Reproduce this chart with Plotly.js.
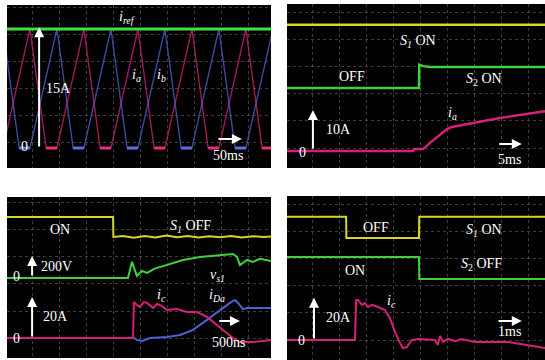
<!DOCTYPE html>
<html><head><meta charset="utf-8">
<script src="https://cdn.plot.ly/plotly-3.0.1.min.js"></script>
<style>html,body{margin:0;padding:0;background:#fff}#c{width:545px;height:360px}</style>
</head><body><div id="c"></div>
<script>
// All values in oscilloscope divisions (x: from panel left, y: from panel bottom)
// Panel 1: triangular currents
const p1_irefX = [0, 9.78];
const p1_irefY = [5.15, 5.15];
const p1_iaX = [-0.15,0.85,1.45,1.85,2.85,3.45,3.85,4.85,5.45,5.85,6.85,7.45,7.85,8.85,9.45,9.85];
const p1_iaY = [0.74,5.15,0.74,0.74,5.15,0.74,0.74,5.15,0.74,0.74,5.15,0.74,0.74,5.15,0.74,0.74];
const p1_ibX = [-0.15,0.45,0.85,1.85,2.45,2.85,3.85,4.45,4.85,5.85,6.45,6.85,7.85,8.45,8.85,9.85];
const p1_ibY = [5.15,0.74,0.74,5.15,0.74,0.74,5.15,0.74,0.74,5.15,0.74,0.74,5.15,0.74,0.74,5.15];
// bright zero-current plateaus
const p1_iaFlatX = [1.45,1.85,null,3.45,3.85,null,5.45,5.85,null,7.45,7.85,null,9.45,9.78];
const p1_iaFlatY = [0.74,0.74,null,0.74,0.74,null,0.74,0.74,null,0.74,0.74,null,0.74,0.74];
const p1_ibFlatX = [0.45,0.85,null,2.45,2.85,null,4.45,4.85,null,6.45,6.85,null,8.45,8.85];
const p1_ibFlatY = [0.74,0.74,null,0.74,0.74,null,0.74,0.74,null,0.74,0.74,null,0.74,0.74];

// Panel 2: S1 ON, S2 turns ON, ia rises
const p2_s1X = [0, 9.56];
const p2_s1Y = [5.30, 5.30];
const p2_s2X = [0, 4.89, 4.90, 5.05, 5.3, 9.56];
const p2_s2Y = [2.96, 2.96, 3.82, 3.77, 3.74, 3.74];
const p2_iaX = [0, 4.67, 4.70, 5.04, 5.30, 5.56, 5.93, 6.11, 7.00, 7.89, 9.56];
const p2_iaY = [0.63, 0.63, 0.70, 0.70, 0.93, 1.15, 1.44, 1.52, 1.68, 1.85, 2.10];

// Panel 3: S1 turns OFF
const p3_s1X = [0, 3.93, 3.94, 4.3, 4.7, 5.1, 5.5, 5.9, 6.3, 6.7, 7.1, 7.5, 7.9, 8.3, 8.7, 9.1, 9.5, 9.78];
const p3_s1Y = [5.22, 5.22, 4.48, 4.52, 4.45, 4.52, 4.46, 4.53, 4.47, 4.52, 4.46, 4.51, 4.47, 4.52, 4.46, 4.51, 4.48, 4.50];
const p3_vsX = [0, 4.48, 4.63, 4.81, 5.00, 5.19, 5.45, 5.93, 6.52, 7.15, 7.78, 8.37, 8.52, 8.63, 8.89, 9.11, 9.37, 9.78];
const p3_vsY = [2.96, 2.96, 3.56, 3.04, 3.22, 3.15, 3.30, 3.44, 3.63, 3.74, 3.81, 3.85, 3.74, 3.44, 3.63, 3.56, 3.67, 3.59];
const p3_icX = [0, 4.67, 4.70, 4.81, 4.93, 5.07, 5.19, 5.30, 5.41, 5.56, 5.67, 5.93, 6.30, 6.67, 7.04, 7.41, 7.78, 8.15, 8.37, 8.63, 9.11, 9.78];
const p3_icY = [0.74, 0.74, 2.07, 1.96, 1.89, 2.07, 2.04, 1.93, 1.85, 2.00, 1.96, 1.78, 1.81, 1.70, 1.70, 1.52, 1.22, 0.93, 0.74, 0.59, 0.59, 0.67];
const p3_idX = [0, 4.70, 4.81, 5.00, 5.30, 5.93, 6.41, 6.89, 7.41, 7.89, 8.26, 8.44, 8.56, 8.74, 8.89, 9.78];
const p3_idY = [0.74, 0.74, 0.67, 0.63, 0.74, 0.78, 0.85, 1.04, 1.41, 1.78, 2.04, 2.15, 2.04, 1.81, 1.85, 1.85];

// Panel 4: S1 turns ON, S2 turns OFF
const p4_s1X = [0, 2.19, 2.20, 4.89, 4.90, 9.56];
const p4_s1Y = [5.30, 5.30, 4.52, 4.52, 5.30, 5.30];
const p4_s2X = [0, 4.89, 4.90, 9.56];
const p4_s2Y = [3.81, 3.81, 3.00, 3.00];
const p4_icX = [0, 2.52, 2.56, 2.63, 2.78, 2.89, 3.00, 3.15, 3.37, 3.63, 3.81, 4.00, 4.19, 4.30, 4.44, 4.63, 4.85, 5.48, 5.59, 5.67, 5.78, 5.96, 6.22, 6.48, 6.96, 8.19, 9.56];
const p4_icY = [0.74, 0.74, 2.22, 2.22, 2.04, 2.11, 1.96, 2.04, 1.96, 1.85, 1.56, 1.04, 0.63, 0.44, 0.48, 0.74, 0.78, 0.74, 0.56, 0.89, 0.67, 0.78, 0.70, 0.78, 0.67, 0.67, 0.44];

const YEL = '#d6d624', GRN = '#3fcf3f', MAG = '#d62078', BLU = '#5060d0';

function tr(x, y, n, color, w, op) {
  return {x: x, y: y, xaxis: 'x' + (n > 1 ? n : ''), yaxis: 'y' + (n > 1 ? n : ''),
    mode: 'lines', line: {color: color, width: w}, opacity: op || 1, hoverinfo: 'skip',
    showlegend: false, connectgaps: false};
}
const data = [
  tr(p1_iaX, p1_iaY, 1, MAG, 1.4, 0.75),
  tr(p1_ibX, p1_ibY, 1, BLU, 1.4, 0.75),
  tr(p1_iaFlatX, p1_iaFlatY, 1, '#e8307f', 3),
  tr(p1_ibFlatX, p1_ibFlatY, 1, '#5c70e0', 3),
  tr(p1_irefX, p1_irefY, 1, '#40e040', 3),
  tr(p2_s1X, p2_s1Y, 2, YEL, 2.5),
  tr(p2_s2X, p2_s2Y, 2, GRN, 2.5),
  tr(p2_iaX, p2_iaY, 2, MAG, 2.5),
  tr(p3_s1X, p3_s1Y, 3, YEL, 2),
  tr(p3_vsX, p3_vsY, 3, GRN, 2),
  tr(p3_idX, p3_idY, 3, BLU, 2),
  tr(p3_icX, p3_icY, 3, MAG, 2),
  tr(p4_s1X, p4_s1Y, 4, YEL, 2),
  tr(p4_s2X, p4_s2Y, 4, GRN, 2),
  tr(p4_icX, p4_icY, 4, MAG, 2)
];

function ax(dom, rng, t0, anchor) {
  return {domain: dom, range: rng, anchor: anchor, showticklabels: false, ticks: '', zeroline: false,
    showline: false, showgrid: true, gridcolor: 'rgba(110,110,110,0.55)', griddash: 'dot', gridwidth: 1,
    tick0: t0, dtick: 1, fixedrange: true};
}
const SERIF = 'Liberation Serif';
function lab(n, x, y, text) {
  const s = n > 1 ? n : '';
  return {xref: 'x' + s, yref: 'y' + s, x: x, y: y, text: text, showarrow: false,
    font: {family: SERIF, size: 14, color: '#ffffff'}, xanchor: 'center', yanchor: 'middle'};
}
function arr(n, x0, y0, x1, y1) {
  const s = n > 1 ? n : '';
  return {xref: 'x' + s, yref: 'y' + s, axref: 'x' + s, ayref: 'y' + s, x: x1, y: y1, ax: x0, ay: y0,
    text: '', showarrow: true, arrowhead: 2, arrowsize: 1, arrowwidth: 2, arrowcolor: '#ffffff'};
}
const annotations = [
  arr(1, 1.19, 0.74, 1.19, 5.22), arr(1, 7.78, 1.07, 8.70, 1.07),
  lab(1, 4.44, 5.56, '<i>i</i><sub><i>ref</i></sub>'), lab(1, 4.78, 3.44, '<i>i</i><sub><i>a</i></sub>'),
  lab(1, 5.74, 3.44, '<i>i</i><sub><i>b</i></sub>'), lab(1, 1.89, 2.96, '15A'),
  lab(1, 0.63, 0.78, '0'), lab(1, 8.19, 0.48, '50ms'),

  arr(2, 0.96, 0.67, 0.96, 2.15), arr(2, 7.81, 0.89, 8.70, 0.89),
  lab(2, 4.85, 4.67, '<i>S</i><sub><i>1</i></sub> ON'), lab(2, 2.41, 3.37, 'OFF'),
  lab(2, 7.30, 3.26, '<i>S</i><sub>2</sub> ON'), lab(2, 6.15, 2.02, '<i>i</i><sub><i>a</i></sub>'),
  lab(2, 1.89, 1.41, '10A'), lab(2, 0.56, 0.59, '0'), lab(2, 8.26, 0.33, '5ms'),

  arr(3, 0.93, 3.0, 0.93, 3.78), arr(3, 0.93, 0.74, 0.93, 2.26), arr(3, 7.81, 1.37, 8.63, 1.37),
  lab(3, 1.96, 4.74, 'ON'), lab(3, 6.81, 4.85, '<i>S</i><sub><i>1</i></sub> OFF'),
  lab(3, 1.85, 3.37, '200V'), lab(3, 0.37, 3.0, '0'), lab(3, 7.81, 3.07, '<i>v</i><sub><i>s1</i></sub>'),
  lab(3, 5.74, 2.32, '<i>i</i><sub><i>c</i></sub>'), lab(3, 7.78, 2.32, '<i>i</i><sub><i>Da</i></sub>'),
  lab(3, 1.81, 1.52, '20A'), lab(3, 0.37, 0.74, '0'), lab(3, 8.22, 0.56, '500ns'),

  arr(4, 1.0, 0.74, 1.0, 2.30), arr(4, 7.78, 1.44, 8.70, 1.44),
  lab(4, 3.30, 4.89, 'OFF'), lab(4, 7.30, 4.81, '<i>S</i><sub><i>1</i></sub> ON'),
  lab(4, 2.52, 3.33, 'ON'), lab(4, 7.22, 3.52, '<i>S</i><sub>2</sub> OFF'),
  lab(4, 1.89, 1.56, '20A'), lab(4, 0.52, 0.74, '0'),
  lab(4, 3.89, 2.15, '<i>i</i><sub><i>c</i></sub>'), lab(4, 8.26, 1.04, '1ms')
];

const layout = {
  width: 545, height: 360, margin: {l: 0, r: 0, t: 0, b: 0},
  font: {family: SERIF, size: 14, color: '#ffffff'},
  paper_bgcolor: '#ffffff', plot_bgcolor: '#000000', showlegend: false,
  xaxis:  ax([7/545, 271/545], [0, 9.78], 0.93, 'y'),
  yaxis:  ax([1-168/360, 1-5/360], [0, 6.04], 0.96, 'x'),
  xaxis2: ax([287/545, 1], [0, 9.56], 0.96, 'y2'),
  yaxis2: ax([1-168/360, 1-4/360], [0, 6.07], 0.74, 'x2'),
  xaxis3: ax([7/545, 271/545], [0, 9.78], 0.93, 'y3'),
  yaxis3: ax([1-358/360, 1-197/360], [0, 5.96], 0.74, 'x3'),
  xaxis4: ax([287/545, 1], [0, 9.56], 0.96, 'y4'),
  yaxis4: ax([0, 1-196/360], [0, 6.07], 0.74, 'x4'),
  annotations: annotations
};
Plotly.newPlot('c', data, layout, {displayModeBar: false, staticPlot: true});
</script></body></html>
